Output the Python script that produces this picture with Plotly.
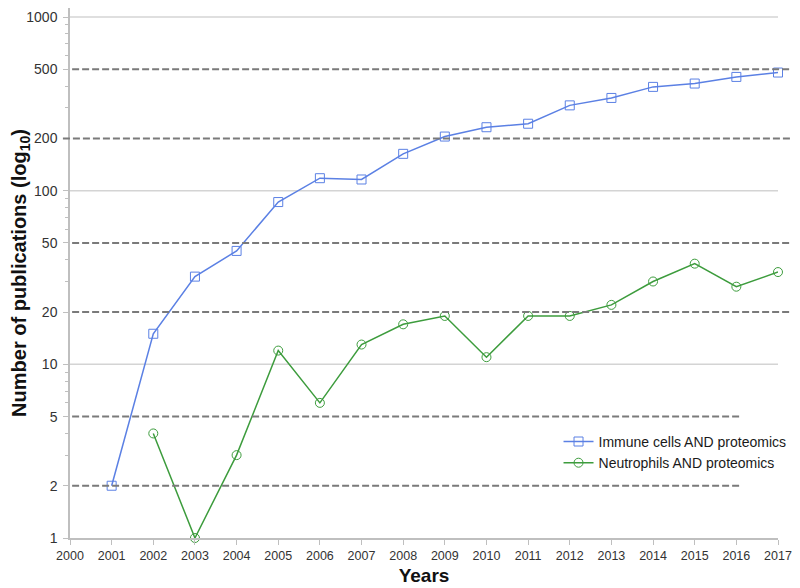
import plotly.graph_objects as go

# Dados
anos = list(range(2001, 2018))
imune = [2, 15, 32, 45, 86, 118, 116, 163, 205, 232, 243, 310, 342, 396, 414, 452, 479]

anos_neutro = list(range(2002, 2018))
neutrofilos = [4, 1, 3, 12, 6, 13, 17, 19, 11, 19, 19, 22, 30, 38, 28, 34]

y_ticks = [1, 2, 5, 10, 20, 50, 100, 200, 500, 1000]
y_minor = [3, 4, 6, 7, 8, 9, 30, 40, 60, 70, 80, 90, 300, 400, 600, 700, 800, 900]
x_ticks = list(range(2000, 2018))
linhas_solidas = [10, 100, 1000]
linhas_tracejadas = [2, 5, 20, 50, 200, 500]

azul = "#5b80e4"
verde = "#3d9c3d"

fig = go.Figure()

fig.add_trace(
    go.Scatter(
        x=anos,
        y=imune,
        mode="lines+markers",
        name="Immune cells AND proteomics",
        line=dict(color=azul, width=1.5),
        marker=dict(symbol="square-open", size=9, color=azul, line=dict(width=1)),
        cliponaxis=False
    )
)

fig.add_trace(
    go.Scatter(
        x=anos_neutro,
        y=neutrofilos,
        mode="lines+markers",
        name="Neutrophils AND proteomics",
        line=dict(color=verde, width=1.5),
        marker=dict(symbol="circle-open", size=9, color=verde, line=dict(width=1)),
        cliponaxis=False
    )
)

# Linhas de grade sólidas (décadas)
for v in linhas_solidas:
    fig.add_shape(
        type="line", xref="x", yref="y",
        x0=2000, x1=2017, y0=v, y1=v,
        line=dict(color="#d4d4d4", width=1.5),
        layer="below"
    )

# Linhas tracejadas de referência
for v in linhas_tracejadas:
    fim = 0.946 if v < 10 else 1.021
    inicio = -0.01 if v == 200 else 0.003
    fig.add_shape(
        type="line", xref="paper", yref="y",
        x0=inicio, x1=fim, y0=v, y1=v,
        line=dict(color="#7a7a7a", width=2, dash="7px,3px"),
        layer="above"
    )

# A página tem margem de 8px no body, por isso 792x580
fig.update_layout(
    width=792,
    height=580,
    plot_bgcolor="white",
    paper_bgcolor="white",
    margin=dict(l=62, r=22, t=0, b=50),
    font=dict(family="Liberation Sans, Arial", color="#404040"),
    showlegend=True,
    legend=dict(
        x=0.69, y=0.2115, xanchor="left", yanchor="top",
        bgcolor="rgba(0,0,0,0)",
        font=dict(size=14, color="#1a1a1a"),
        itemwidth=30,
        tracegroupgap=0
    ),
    xaxis=dict(
        range=[2000, 2017],
        tickvals=x_ticks,
        showgrid=False,
        zeroline=False,
        showline=True,
        linecolor="#bfbfbf",
        linewidth=1.5,
        ticks="outside",
        ticklen=5,
        tickcolor="#bfbfbf",
        tickfont=dict(size=12.5, color="#333333"),
        title=dict(
            text="<b>Years</b>",
            font=dict(size=19, color="#111111"),
            standoff=7
        )
    ),
    yaxis=dict(
        type="log",
        range=[0, 3.052],
        tickvals=y_ticks,
        ticktext=[str(v) for v in y_ticks],
        showgrid=False,
        zeroline=False,
        showline=True,
        linecolor="#bfbfbf",
        linewidth=1.5,
        ticks="outside",
        ticklen=5,
        tickcolor="#bfbfbf",
        ticklabelstandoff=3,
        tickfont=dict(size=14, color="#333333"),
        minor=dict(tickvals=y_minor, ticks="outside", ticklen=3,
                   tickcolor="#bfbfbf", showgrid=False),
        title=dict(
            text="<b>Number of publications (log<sub>10</sub>)</b>",
            font=dict(size=20, color="#111111"),
            standoff=0
        )
    )
)

fig.write_html("out.html")
